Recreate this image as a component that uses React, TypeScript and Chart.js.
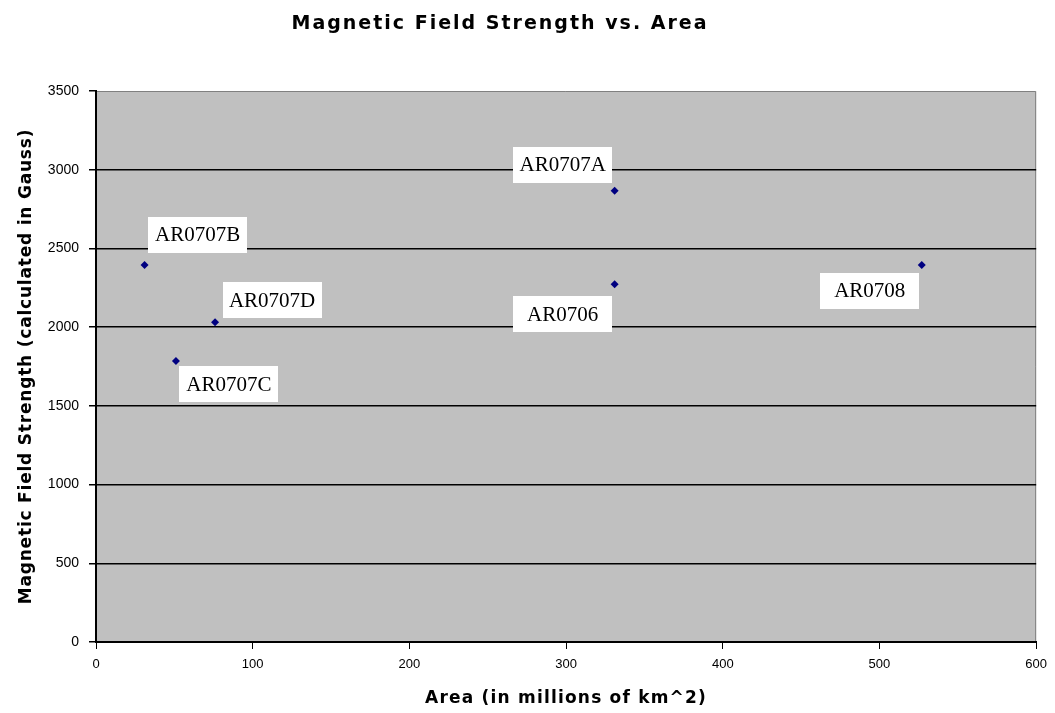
import { useEffect, useRef } from 'react';
import { Chart, registerables } from 'chart.js';

Chart.register(...registerables);

// Active regions: sunspot area vs. computed field strength
const regionNames = ['AR0707B', 'AR0707C', 'AR0707D', 'AR0707A', 'AR0706', 'AR0708'];
const areaValues = [31, 51, 76, 331, 331, 527];
const fieldValues = [2395, 1785, 2031, 2867, 2272, 2395];

// Callout placement relative to each point (box centre, in pixels)
const labelOffsets: [number, number][] = [
  [53, -30],
  [53, 23],
  [57, -22],
  [-52, -26],
  [-52, 30],
  [-52, 26],
];

const chartTitle = 'Magnetic Field Strength vs. Area';
const xAxisTitle = 'Area (in millions of km^2)';
const yAxisTitle = 'Magnetic Field Strength (calculated in Gauss)';

const SANS = "'Liberation Sans', Arial, sans-serif";
const HEAVY = "'DejaVu Sans', 'Liberation Sans', sans-serif";
const SERIF = "'Liberation Serif', 'Times New Roman', serif";

const plotBackground = {
  id: 'plotBackground',
  beforeDraw(chart: any) {
    const { ctx, chartArea: a } = chart;
    ctx.save();
    ctx.fillStyle = '#c0c0c0';
    ctx.fillRect(a.left, a.top, a.right - a.left, a.bottom - a.top);
    ctx.strokeStyle = '#808080';
    ctx.lineWidth = 1;
    ctx.beginPath();
    ctx.moveTo(a.left, a.top + 0.5);
    ctx.lineTo(a.right - 0.5, a.top + 0.5);
    ctx.lineTo(a.right - 0.5, a.bottom);
    ctx.stroke();
    ctx.restore();
  },
};

const pointCallouts = {
  id: 'pointCallouts',
  afterDatasetsDraw(chart: any) {
    const { ctx } = chart;
    const meta = chart.getDatasetMeta(0);
    ctx.save();
    ctx.font = `21px ${SERIF}`;
    ctx.textAlign = 'center';
    ctx.textBaseline = 'middle';
    meta.data.forEach((pt: any, i: number) => {
      const [dx, dy] = labelOffsets[i];
      const cx = pt.x + dx;
      const cy = pt.y + dy;
      const w = 99;
      const h = 36;
      ctx.fillStyle = '#ffffff';
      ctx.fillRect(Math.round(cx - w / 2), Math.round(cy - h / 2), w, h);
      ctx.fillStyle = '#000000';
      ctx.fillText(regionNames[i], cx, cy + 1);
    });
    ctx.restore();
  },
};

const chartTitles = {
  id: 'chartTitles',
  afterDraw(chart: any) {
    const { ctx, chartArea: a } = chart;
    ctx.save();
    ctx.fillStyle = '#000000';
    ctx.textAlign = 'center';
    ctx.textBaseline = 'alphabetic';

    ctx.font = `bold 19px ${HEAVY}`;
    (ctx as any).letterSpacing = '2px';
    ctx.fillText(chartTitle, 500, 29);

    ctx.font = `bold 17px ${HEAVY}`;
    (ctx as any).letterSpacing = '1.2px';
    ctx.fillText(xAxisTitle, (a.left + a.right) / 2, 703);

    (ctx as any).letterSpacing = '0.8px';
    ctx.translate(31, (a.top + a.bottom) / 2);
    ctx.rotate(-Math.PI / 2);
    ctx.fillText(yAxisTitle, 0, 0);
    ctx.restore();
  },
};

export default function App() {
  const canvasRef = useRef<HTMLCanvasElement | null>(null);

  useEffect(() => {
    const canvas = canvasRef.current;
    if (!canvas) return;
    const chart = new Chart(canvas, {
      type: 'scatter',
      data: {
        datasets: [
          {
            label: 'Active regions',
            data: areaValues.map((x, i) => ({ x, y: fieldValues[i] })),
            pointStyle: 'rectRot',
            pointRadius: 4,
            pointHoverRadius: 4,
            backgroundColor: '#000080',
            borderColor: '#000080',
            borderWidth: 0,
          },
        ],
      },
      options: {
        animation: false,
        responsive: false,
        devicePixelRatio: 1,
        layout: { padding: { top: 91, left: 0, right: 18, bottom: 0 } },
        plugins: {
          legend: { display: false },
          title: { display: false },
          tooltip: { enabled: false },
        },
        scales: {
          x: {
            type: 'linear',
            position: 'bottom',
            min: 0,
            max: 600,
            afterFit(scale: any) {
              scale.height = 71;
            },
            ticks: {
              stepSize: 100,
              color: '#000000',
              font: { family: SANS, size: 13 },
              padding: 8,
              callback: (v: any) => String(v),
            },
            grid: {
              drawOnChartArea: false,
              drawTicks: true,
              tickLength: 7,
              tickColor: '#000000',
              color: '#000000',
            },
            border: { display: true, color: '#000000', width: 2 },
          },
          y: {
            type: 'linear',
            min: 0,
            max: 3500,
            afterFit(scale: any) {
              scale.width = 96;
            },
            ticks: {
              stepSize: 500,
              color: '#000000',
              font: { family: SANS, size: 14 },
              padding: 10,
              callback: (v: any) => String(v),
            },
            grid: {
              color: (c: any) => (c.tick && c.tick.value === 3500 ? 'rgba(0,0,0,0)' : '#000000'),
              lineWidth: 1.5,
              drawTicks: true,
              tickLength: 7,
              tickColor: '#000000',
              tickWidth: 1.5,
            },
            border: { display: true, color: '#000000', width: 2 },
          },
        },
      },
      plugins: [plotBackground, pointCallouts, chartTitles],
    });
    return () => chart.destroy();
  }, []);

  return (
    <div style={{ position: 'fixed', left: 0, top: 0, width: 1055, height: 713, background: '#ffffff' }}>
      <canvas ref={canvasRef} width={1055} height={713} style={{ display: 'block' }} />
    </div>
  );
}
